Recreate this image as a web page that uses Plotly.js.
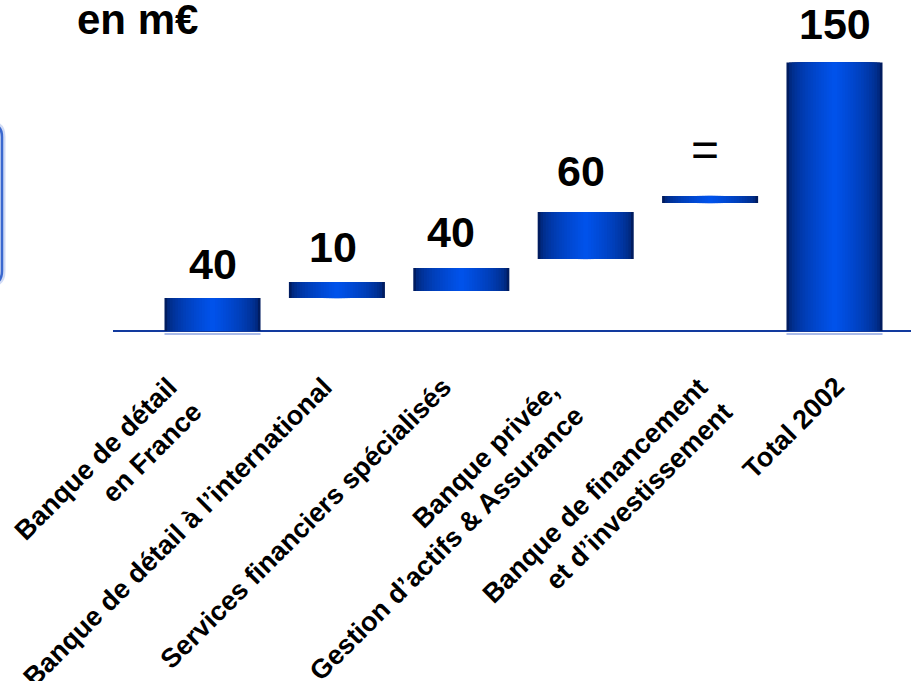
<!DOCTYPE html>
<html>
<head>
<meta charset="utf-8">
<script src="https://cdn.plot.ly/plotly-3.0.1.min.js"></script>
<style>
  html, body { margin: 0; padding: 0; background: #ffffff; }
  #chart { width: 911px; height: 681px; }
</style>
</head>
<body>
<div id="chart"></div>
<script>
// ---------- data ----------
const categories = [
  "Banque de détail<br>en France",
  "Banque de détail à l’international",
  "Services financiers spécialisés",
  "Banque privée,<br>Gestion d’actifs & Assurance",
  "Banque de financement<br>et d’investissement",
  "Total 2002"
];
const valueLabels = ["40", "10", "40", "60", "=", "150"];
// floating bars as drawn (bottom and top of each bar, total drawn = 150)
const barBottom = [0, 18.4, 22.4, 40.2, 71.5, 0];
const barTop = [18.4, 27.4, 35.2, 66.5, 75.5, 150];
const unitTitle = "en m€";

// ---------- layout configuration ----------
const W = 911, H = 681;
const M = { l: 113, r: 0, t: 0, b: 341 };
const plotH = H - M.t - M.b;   // 340
const plotW = W - M.l - M.r;   // 798
const yRange = [-5.03, 185];
const xRange = [-0.8, 5.615];
const barWidth = 0.772;
const FONT = "Liberation Sans, Arial, Helvetica, sans-serif";

const pxToPaperX = px => (px - M.l) / plotW;
const pxToPaperY = py => (M.t + plotH - py) / plotH;

const idx = categories.map((_, i) => i);
const heights = barTop.map((t, i) => t - barBottom[i]);

// cylinder-like gradient built from overlaid bars of decreasing width
const dark = [0, 28, 96], bright = [0, 82, 234];
const N = 18;
const traces = [];
for (let k = 0; k < N; k++) {
  const t = Math.pow(k / (N - 1), 0.5);
  const c = dark.map((d, j) => Math.round(d + (bright[j] - d) * t));
  traces.push({
    type: "bar",
    x: idx,
    y: heights,
    base: barBottom,
    width: barWidth * (1 - k / N),
    marker: { color: `rgb(${c[0]},${c[1]},${c[2]})`, line: { width: 0 } },
    hoverinfo: "skip",
    showlegend: false
  });
}
// faint reflection under bars standing on the baseline
traces.push({
  type: "bar",
  x: idx,
  y: barBottom.map(b => (b === 0 ? 0.9 : null)),
  base: barBottom.map(b => (b === 0 ? -2.1 : null)),
  width: barWidth,
  marker: { color: "#8ea4e2", line: { width: 0 } },
  hoverinfo: "skip",
  showlegend: false
});

// value labels above each bar
const valueShiftX = [0, -4.3, -10, -4.3, -5, 0];
const valueShiftY = [34.5, 34.5, 36.5, 41, 46, 38.5];
const annotations = valueLabels.map((txt, i) => ({
  x: i, y: barTop[i], xref: "x", yref: "y",
  text: txt,
  showarrow: false,
  xanchor: "center", yanchor: "middle",
  xshift: valueShiftX[i], yshift: valueShiftY[i],
  font: txt === "="
    ? { family: FONT, size: 48, color: "#000000", weight: "normal" }
    : { family: FONT, size: 43, color: "#000000", weight: "bold" }
}));

// rotated category labels
const catShiftX = [-2.5, 4, -1, 6, 31.5, 18.5];
const catShiftY = [-38, -38, -38, -42, -38, -38];
categories.forEach((txt, i) => {
  annotations.push({
    x: i, y: 0, xref: "x", yref: "y",
    text: txt,
    showarrow: false,
    textangle: -45,
    align: "right",
    xanchor: "right", yanchor: "top",
    xshift: catShiftX[i], yshift: catShiftY[i],
    font: { family: FONT, size: 27, color: "#000000", weight: "bold" }
  });
});

// unit title
annotations.push({
  x: pxToPaperX(137.5), y: pxToPaperY(19), xref: "paper", yref: "paper",
  text: unitTitle, showarrow: false,
  xanchor: "center", yanchor: "middle",
  font: { family: FONT, size: 42, color: "#000000", weight: "bold" }
});

// partial rounded frame at the left edge (cut off by the page)
const fx = pxToPaperX(2), fxl = pxToPaperX(-30), fr = pxToPaperX(2) - pxToPaperX(-8);
const ft = pxToPaperY(125), fb = pxToPaperY(283), frY = pxToPaperY(125) - pxToPaperY(137);
const framePath = `M ${fxl} ${ft} L ${fx - fr} ${ft} Q ${fx} ${ft} ${fx} ${ft - frY} ` +
                  `L ${fx} ${fb + frY} Q ${fx} ${fb} ${fx - fr} ${fb} L ${fxl} ${fb}`;

const shapes = [
  { type: "path", xref: "paper", yref: "paper", path: framePath,
    line: { color: "rgba(70,110,215,0.25)", width: 7 } },
  { type: "path", xref: "paper", yref: "paper", path: framePath,
    line: { color: "#3a68cf", width: 2.5 } }
];

const layout = {
  width: W, height: H,
  margin: M,
  paper_bgcolor: "#ffffff",
  plot_bgcolor: "#ffffff",
  barmode: "overlay",
  showlegend: false,
  xaxis: {
    range: xRange, showgrid: false, zeroline: false, showline: false,
    showticklabels: false, ticks: "", fixedrange: true
  },
  yaxis: {
    range: yRange, showgrid: false, showticklabels: false, ticks: "",
    showline: false, zeroline: true, zerolinecolor: "#123a9e", zerolinewidth: 2,
    fixedrange: true
  },
  annotations: annotations,
  shapes: shapes,
  font: { family: FONT }
};

Plotly.newPlot("chart", traces, layout, { displayModeBar: false, staticPlot: true });
</script>
</body>
</html>
